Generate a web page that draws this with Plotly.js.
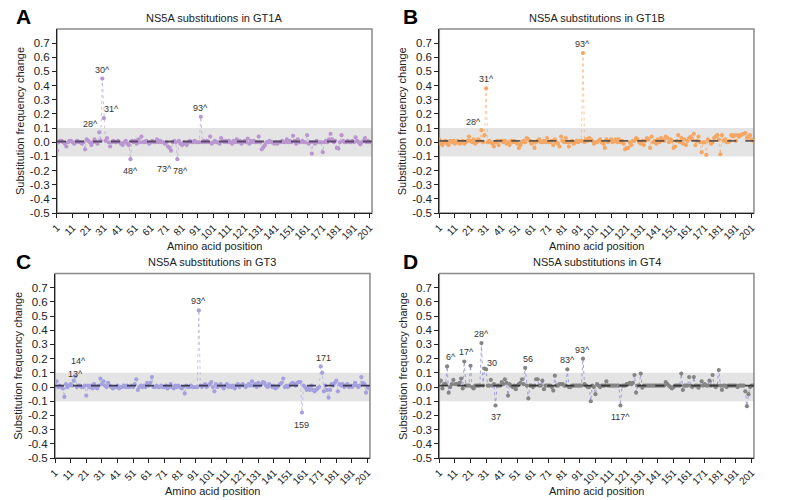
<!DOCTYPE html>
<html>
<head>
<meta charset="utf-8">
<script src="https://cdn.plot.ly/plotly-3.0.1.min.js"></script>
<style>html,body{margin:0;padding:0;background:#fff;}#chart{width:787px;height:500px;}</style>
</head>
<body>
<div id="chart"></div>
<script>
// ---------- DATA ----------
const panelLetters = ['A', 'B', 'C', 'D'];
const panelTitles = ['NS5A substitutions in GT1A', 'NS5A substitutions in GT1B', 'NS5A substitutions in GT3', 'NS5A substitutions in GT4'];
const xTickLabels = ['1','11','21','31','41','51','61','71','81','91','101','111','121','131','141','151','161','171','181','191','201'];
const yTickLabels = ['-0.5','-0.4','-0.3','-0.2','-0.1','0.0','0.1','0.2','0.3','0.4','0.5','0.6','0.7'];
const medianLevels = [0.005, 0.01, 0.01, 0.01];

const gt1a = [
 -0.06, 0.00, 0.01, 0.01, 0.00, -0.01, -0.03, 0.00, 0.01, 0.01,
 0.00, -0.01, 0.00, 0.01, 0.00, 0.00, -0.01, 0.00, -0.05, 0.02,
 0.01, 0.00, -0.02, 0.00, 0.02, 0.00, -0.01, 0.07, 0.01, 0.45,
 0.17, 0.01, 0.03, 0.00, -0.03, 0.00, 0.01, 0.00, 0.00, 0.01,
 0.00, -0.01, -0.02, 0.00, 0.01, -0.01, -0.02, -0.12, 0.01, 0.00,
 0.01, -0.01, 0.02, 0.00, 0.04, 0.00, 0.00, 0.01, 0.00, -0.01,
 0.00, 0.01, 0.00, 0.00, 0.02, 0.00, 0.01, 0.00, 0.00, -0.01,
 0.00, -0.03, -0.04, -0.06, 0.00, 0.01, 0.00, -0.12, 0.01, -0.01,
 -0.02, 0.00, -0.01, -0.02, 0.00, 0.01, 0.00, 0.00, 0.01, 0.00,
 0.00, 0.00, 0.18, 0.00, 0.01, 0.00, 0.01, 0.00, 0.04, -0.01,
 0.00, 0.01, 0.00, 0.00, -0.01, 0.03, 0.01, 0.00, 0.01, 0.00,
 0.01, 0.00, -0.01, 0.01, 0.00, 0.02, 0.00, 0.01, -0.01, 0.00,
 0.01, 0.00, 0.025, -0.01, 0.01, 0.00, 0.01, 0.00, 0.00, 0.04,
 0.00, -0.05, -0.035, -0.02, 0.00, 0.00, 0.01, 0.00, 0.00, -0.01,
 0.00, -0.01, 0.00, 0.00, 0.01, 0.00, 0.00, 0.02, 0.00, 0.01,
 0.00, 0.045, 0.01, -0.01, 0.02, 0.00, 0.00, 0.01, 0.00, 0.00,
 0.05, -0.01, 0.00, -0.08, 0.00, -0.01, 0.01, 0.00, 0.00, 0.00,
 -0.07, 0.00, 0.01, 0.00, 0.02, 0.06, 0.02, 0.00, 0.01, -0.04,
 -0.045, 0.00, 0.05, 0.01, 0.00, 0.00, 0.01, 0.00, 0.00, 0.01,
 0.00, 0.035, 0.01, 0.00, -0.015, 0.00, 0.01, 0.03, 0.00, 0.01,
 0.00, 0.00
];
const gt1b = [
 0.02, -0.01, -0.02, 0.00, 0.01, -0.01, -0.02, 0.01, 0.00, 0.01,
 -0.01, 0.00, 0.01, -0.01, 0.00, 0.01, -0.01, 0.00, 0.01, 0.04,
 0.01, 0.00, 0.02, -0.01, 0.00, 0.02, 0.01, 0.085, 0.00, 0.05,
 0.38, 0.00, 0.01, 0.00, -0.01, -0.03, 0.00, 0.01, -0.02, 0.01,
 0.01, 0.00, 0.01, -0.01, 0.00, -0.02, 0.01, 0.00, 0.01, 0.00,
 -0.01, -0.04, -0.02, 0.00, 0.01, 0.00, 0.03, 0.02, 0.01, -0.01,
 0.00, -0.04, 0.00, 0.01, 0.02, 0.00, 0.00, 0.01, 0.00, 0.03,
 0.00, 0.00, 0.01, -0.02, 0.02, 0.00, -0.01, -0.03, 0.04, 0.01,
 0.00, 0.03, 0.00, -0.03, 0.00, 0.01, -0.01, 0.00, 0.01, 0.00,
 0.01, 0.01, 0.63, 0.00, 0.02, 0.01, 0.03, 0.02, 0.01, -0.01,
 0.00, 0.00, 0.01, 0.02, 0.00, -0.01, -0.04, 0.02, 0.00, 0.01,
 0.02, 0.00, 0.01, 0.02, 0.00, 0.02, 0.00, 0.01, -0.01, -0.05,
 -0.04, -0.04, 0.00, -0.02, 0.01, 0.01, 0.03, 0.02, 0.00, -0.01,
 0.01, -0.02, 0.01, 0.03, 0.02, -0.04, 0.04, 0.00, 0.01, -0.01,
 0.02, 0.00, 0.03, 0.02, 0.01, 0.04, 0.03, 0.00, 0.02, 0.01,
 -0.04, -0.03, 0.01, 0.05, 0.00, 0.03, -0.01, 0.02, -0.02, 0.01,
 0.03, 0.04, 0.02, 0.06, -0.02, 0.01, 0.04, 0.00, -0.07, 0.00,
 0.00, -0.09, 0.02, 0.01, -0.01, 0.00, 0.03, 0.04, 0.05, 0.02,
 -0.085, 0.05, 0.01, 0.02, 0.00, 0.00, 0.01, 0.05, 0.04, 0.05,
 0.01, 0.05, 0.04, 0.05, 0.055, 0.06, 0.065, 0.03, 0.04, 0.05,
 0.02, 0.01
];
const gt3 = [
 0.03, 0.04, 0.00, 0.01, 0.00, -0.01, -0.07, 0.02, 0.00, 0.01,
 0.02, 0.01, 0.045, 0.075, 0.00, 0.01, 0.01, 0.00, 0.00, 0.01,
 -0.06, 0.01, 0.00, 0.01, -0.01, 0.02, 0.00, -0.01, 0.01, 0.06,
 0.02, 0.04, 0.01, 0.00, 0.03, 0.01, 0.00, -0.01, 0.00, 0.00,
 0.01, -0.01, 0.00, 0.00, 0.01, 0.00, 0.01, 0.00, 0.00, 0.01,
 0.00, 0.02, 0.055, -0.02, 0.00, 0.01, 0.00, 0.01, 0.00, 0.03,
 0.01, 0.03, 0.07, 0.00, 0.00, 0.01, 0.00, 0.00, 0.01, 0.00,
 0.00, 0.01, -0.01, 0.00, 0.02, 0.00, -0.01, 0.01, 0.00, 0.01,
 0.00, -0.01, 0.00, -0.045, 0.01, 0.00, 0.00, 0.01, 0.00, 0.00,
 0.00, 0.00, 0.54, 0.01, 0.00, 0.01, 0.02, 0.00, 0.01, 0.02,
 0.035, 0.00, -0.03, 0.02, 0.00, 0.01, 0.02, 0.00, -0.01, 0.01,
 0.02, 0.00, 0.01, 0.00, 0.01, -0.01, 0.01, 0.02, 0.00, 0.01,
 0.02, 0.01, 0.00, 0.01, 0.02, 0.01, 0.04, 0.01, 0.02, 0.00,
 0.03, 0.01, 0.02, 0.035, 0.03, 0.01, 0.00, 0.02, 0.01, 0.00,
 0.01, -0.01, 0.00, 0.01, 0.02, 0.03, 0.06, 0.00, 0.01, 0.00,
 0.01, 0.02, 0.03, 0.02, 0.01, 0.03, 0.035, 0.035, -0.18, 0.01,
 0.00, -0.02, -0.01, -0.02, 0.01, -0.02, -0.03, -0.02, -0.01, 0.00,
 0.145, 0.10, -0.03, 0.01, -0.02, -0.075, -0.02, 0.02, 0.01, 0.03,
 0.045, -0.03, 0.02, 0.01, 0.02, 0.00, 0.01, 0.02, 0.00, 0.01,
 0.00, 0.01, 0.03, 0.01, 0.00, 0.01, 0.07, 0.03, 0.02, -0.04,
 0.00, -0.01
];
const gt4 = [
 0.035, 0.045, -0.01, 0.02, 0.02, 0.145, -0.04, 0.00, 0.02, 0.05,
 0.02, 0.02, 0.02, 0.03, 0.06, -0.01, 0.18, 0.01, 0.01, 0.01,
 0.15, 0.00, -0.01, 0.01, 0.01, 0.01, 0.01, 0.31, 0.01, 0.13,
 0.125, 0.01, 0.01, 0.05, 0.01, 0.02, -0.13, 0.01, 0.01, 0.01,
 0.035, 0.02, 0.055, 0.03, -0.06, 0.02, 0.01, 0.00, 0.01, -0.015,
 0.01, 0.02, 0.03, 0.055, 0.02, 0.135, 0.01, -0.08, 0.01, 0.01,
 0.00, 0.01, 0.055, 0.055, 0.01, 0.01, 0.045, -0.015, 0.01, 0.01,
 0.01, 0.01, 0.00, -0.025, 0.08, 0.01, 0.01, 0.02, 0.02, 0.02,
 0.01, 0.01, 0.125, 0.00, 0.00, 0.01, 0.01, 0.01, 0.01, 0.01,
 0.01, 0.01, 0.20, 0.02, 0.01, 0.00, 0.00, -0.10, 0.01, 0.00,
 -0.05, 0.02, 0.01, 0.00, 0.01, 0.01, 0.01, 0.04, 0.01, 0.01,
 0.01, 0.01, 0.01, 0.01, 0.01, 0.01, -0.13, 0.01, 0.01, 0.01,
 0.02, 0.02, 0.03, 0.02, 0.03, 0.085, -0.04, 0.01, 0.01, 0.095,
 -0.005, 0.01, 0.01, 0.01, 0.01, 0.01, 0.01, 0.01, 0.01, 0.01,
 0.01, 0.01, 0.01, 0.01, 0.01, 0.035, 0.02, 0.01, 0.00, -0.01,
 0.00, 0.01, 0.01, 0.01, 0.01, 0.095, -0.02, 0.01, 0.01, 0.01,
 0.07, 0.01, 0.00, 0.07, 0.01, 0.01, -0.005, 0.01, 0.04, 0.01,
 0.02, 0.01, 0.01, 0.045, 0.01, 0.085, 0.01, 0.00, 0.01, 0.12,
 0.01, -0.02, 0.01, 0.01, 0.00, 0.01, 0.01, 0.01, 0.01, 0.01,
 0.01, 0.00, 0.01, 0.01, 0.01, 0.01, -0.03, -0.135, -0.05, 0.00,
 0.01, 0.01
];
const labelsA = ['28^', '30^', '31^', '48^', '73^', '78^', '93^'];
const labelsB = ['28^', '31^', '93^'];
const labelsC = ['13^', '14^', '93^', '159', '171'];
const labelsD = ['6^', '17^', '28^', '30', '37', '56', '83^', '93^', '117^'];

// ---------- STYLE ----------
const series = [gt1a, gt1b, gt3, gt4];
const labelSets = [labelsA, labelsB, labelsC, labelsD];
const markerColors = ['#b996cf', '#f5a663', '#a4a1de', '#858585'];
const lineColors = ['rgba(185,150,207,0.6)', 'rgba(245,166,99,0.6)', 'rgba(164,161,222,0.6)', 'rgba(140,140,210,0.8)'];
const medianColors = ['#4a3a55', '#4a4440', '#2a2a3a', '#2a2a2a'];
// label offsets [xshift, yshift] in px, per panel
const labelShift = [
  {'28^': [-9, 8], '30^': [0, 9], '31^': [8, 9], '48^': [0, -12], '73^': [-5, -21], '78^': [3, -12], '93^': [0, 9]},
  {'28^': [-8, 8], '31^': [0, 9], '93^': [0, 9]},
  {'13^': [2, 7], '14^': [3, 15], '93^': [0, 9], '159': [0, -12], '171': [3, 8]},
  {'6^': [4, 9], '17^': [2, 9], '28^': [0, 9], '30': [7, 6], '37': [0, -12], '56': [3, 9], '83^': [0, 9], '93^': [0, 9], '117^': [0, -12]}
];
const xDomains = [[0.0724, 0.4727], [0.5582, 0.9580], [0.0699, 0.4701], [0.5582, 0.9580]];
const yDomains = [[0.574, 0.942], [0.574, 0.942], [0.084, 0.453], [0.084, 0.453]];

const positions = series[0].map((_, i) => i + 1);
const xTickVals = xTickLabels.map(Number);
const yTickVals = yTickLabels.map(Number);
const FONT = 'Liberation Sans, Arial, sans-serif';

const traces = [];
const layout = {
  width: 787, height: 500,
  margin: {l: 0, r: 0, t: 0, b: 0},
  paper_bgcolor: '#ffffff', plot_bgcolor: 'rgba(0,0,0,0)',
  showlegend: false,
  font: {family: FONT, color: '#222'},
  shapes: [], annotations: []
};

series.forEach((vals, k) => {
  const sfx = k === 0 ? '' : String(k + 1);
  const xa = 'x' + sfx, ya = 'y' + sfx;
  traces.push({
    type: 'scatter', mode: 'lines+markers',
    x: positions, y: vals, xaxis: xa, yaxis: ya,
    line: {color: lineColors[k], width: 1, dash: 'dot'},
    marker: {color: markerColors[k], size: 4.2},
    hoverinfo: 'x+y'
  });
  layout['xaxis' + sfx] = {
    domain: xDomains[k], anchor: ya, range: [1, 202.5],
    tickmode: 'array', tickvals: xTickVals, ticktext: xTickLabels,
    tickangle: -45, tickfont: {size: 10, family: FONT, color: '#222'},
    ticks: 'outside', ticklen: 4, tickcolor: '#222',
    showline: true, linecolor: '#222', linewidth: 1,
    showgrid: false, zeroline: false
  };
  layout['yaxis' + sfx] = {
    domain: yDomains[k], anchor: xa, range: [-0.5, 0.8],
    tickmode: 'array', tickvals: yTickVals, ticktext: yTickLabels,
    tickfont: {size: 11.5, family: FONT, color: '#222'},
    ticks: 'outside', ticklen: 4, tickcolor: '#222',
    showline: true, linecolor: '#222', linewidth: 1,
    showgrid: false, zeroline: false
  };
  // grey band
  layout.shapes.push({type: 'rect', xref: xa + ' domain', yref: ya, x0: 0, x1: 1, y0: -0.1, y1: 0.1,
    fillcolor: '#e4e4e4', line: {width: 0}, layer: 'below'});
  // frame
  layout.shapes.push({type: 'rect', xref: xa + ' domain', yref: ya + ' domain', x0: 0, x1: 1, y0: 0, y1: 1,
    fillcolor: 'rgba(0,0,0,0)', line: {color: '#8a8a8a', width: 1.5}, layer: 'below'});
  // median dashed line
  layout.shapes.push({type: 'line', xref: xa + ' domain', yref: ya, x0: 0, x1: 1, y0: medianLevels[k], y1: medianLevels[k],
    line: {color: medianColors[k], width: 1.8, dash: 'dash'}, layer: 'above', opacity: 0.85});

  const xd = xDomains[k], yd = yDomains[k];
  const xc = (xd[0] + xd[1]) / 2;
  // subplot title
  layout.annotations.push({text: panelTitles[k], xref: 'paper', yref: 'paper', x: xc, y: yd[1] + 0.022,
    xanchor: 'center', yanchor: 'middle', showarrow: false, font: {size: 11, family: FONT, color: '#222'}});
  // panel letter
  layout.annotations.push({text: '<b>' + panelLetters[k] + '</b>', xref: 'paper', yref: 'paper',
    x: (k % 2 === 0 ? 14 : 401) / 787, y: yd[1] + 0.025, xanchor: 'left', yanchor: 'middle', showarrow: false,
    font: {size: 21, family: FONT, color: '#000'}});
  // x axis title
  layout.annotations.push({text: 'Amino acid position', xref: 'paper', yref: 'paper', x: xc, y: yd[0] - 0.066,
    xanchor: 'center', yanchor: 'middle', showarrow: false, font: {size: 11, family: FONT, color: '#222'}});
  // y axis title
  layout.annotations.push({text: 'Substitution frequency change', xref: 'paper', yref: 'paper',
    x: xd[0] - 0.047, y: (yd[0] + yd[1]) / 2, textangle: -90,
    xanchor: 'center', yanchor: 'middle', showarrow: false, font: {size: 11, family: FONT, color: '#222'}});
  // point labels
  labelSets[k].forEach(lbl => {
    const pos = parseInt(lbl, 10);
    const sh = labelShift[k][lbl] || [0, 9];
    layout.annotations.push({text: lbl, xref: xa, yref: ya, x: pos, y: vals[pos - 1],
      xshift: sh[0], yshift: sh[1], showarrow: false, xanchor: 'center', yanchor: 'middle',
      font: {size: 9, family: FONT, color: '#333'}});
  });
});

Plotly.newPlot('chart', traces, layout, {displayModeBar: false, staticPlot: true});
</script>
</body>
</html>
